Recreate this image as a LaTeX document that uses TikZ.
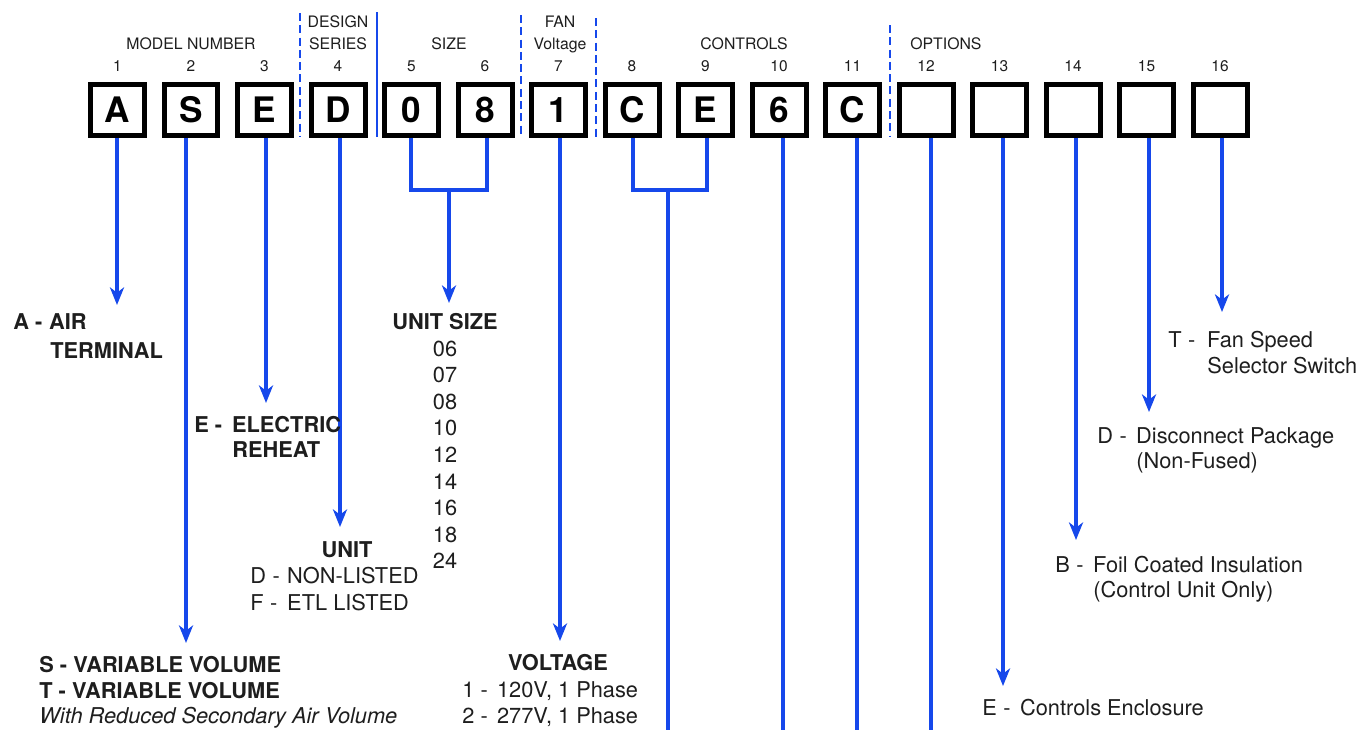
\documentclass[tikz,border=0pt]{standalone}
\usepackage{fontspec}
\setmainfont{TeX Gyre Heros}
\usetikzlibrary{arrows.meta}
\definecolor{cblue}{RGB}{22,72,235}
\definecolor{ink}{RGB}{30,30,30}
\newcommand\lead[2]{\makebox[#1][l]{#2\hspace{0.3em}-}}
\begin{document}
\begin{tikzpicture}[x=0.02cm,y=-0.02cm,
  codebox/.style={draw=black, line width=0.1cm, minimum width=1.08cm, minimum height=1.02cm, inner sep=0pt, font=\fontsize{20}{20}\selectfont\bfseries},
  wire/.style={draw=cblue, line width=1.9pt, line join=miter},
  arr/.style={wire, -{Stealth[length=10pt,width=8pt,inset=3pt]}},
  divd/.style={draw=cblue, line width=1.4pt, dash pattern=on 4.5pt off 2.5pt},
  divs/.style={draw=cblue, line width=1.4pt},
  grp/.style={font=\fontsize{9}{10}\selectfont, text=ink, inner sep=0pt, anchor=base},
  num/.style={font=\fontsize{8.8}{10}\selectfont, text=ink, inner sep=0pt, anchor=base},
  txt/.style={font=\fontsize{12.4}{14}\selectfont, text=ink, inner sep=0pt, anchor=base west},
  btxt/.style={txt, font=\fontsize{12.4}{14}\selectfont\bfseries},
  ctxt/.style={txt, anchor=base},
  cbtxt/.style={btxt, anchor=base}]
\useasboundingbox[fill=white] (0,0) rectangle (1361,730);

% code boxes and position numbers
\foreach \i/\c in {1/A,2/S,3/E,4/D,5/0,6/8,7/1,8/C,9/E,10/6,11/C,12/{},13/{},14/{},15/{},16/{}}{
  \node[codebox] (b\i) at ({117.5+73.5*(\i-1)},110) {\c};
  \node[num] (n\i) at ({117.5+73.5*(\i-1)},71) {\i};
}

% group labels
\node[grp] (gmodel) at (191,49) {MODEL NUMBER};
\node[grp] (gdes1) at (338,28) {DESIGN};
\node[grp] (gdes2) at (338,49) {SERIES};
\node[grp] (gsize) at (449,49) {SIZE};
\node[grp] (gfan1) at (560,28) {FAN};
\node[grp] (gfan2) at (560,49) {Voltage};
\node[grp] (gctl) at (744,49) {CONTROLS};
\node[grp, anchor=base west] (gopt) at (910,49) {OPTIONS};

% dividers
\coordinate (d1a) at (300,13);  \coordinate (d1b) at (300,137);
\coordinate (d2a) at (377,12);  \coordinate (d2b) at (377,137);
\coordinate (d3a) at (521,15);  \coordinate (d3b) at (521,137);
\coordinate (d4a) at (596,18);  \coordinate (d4b) at (596,137);
\coordinate (d5a) at (890,25);  \coordinate (d5b) at (890,137);
\draw[divd] (d1a) -- (d1b);
\draw[divs] (d2a) -- (d2b);
\draw[divd] (d3a) -- (d3b);
\draw[divd] (d4a) -- (d4b);
\draw[divd] (d5a) -- (d5b);

% connector end points
\coordinate (t1) at (117,305);
\coordinate (t2) at (186,643);
\coordinate (t3) at (266,403);
\coordinate (t4) at (340,527);
\coordinate (t7) at (560,641);
\coordinate (t13) at (1003,686);
\coordinate (t14) at (1076,540);
\coordinate (t15) at (1149,412);
\coordinate (t16) at (1222,312);
\coordinate (tsz) at (449,303);
\coordinate (k5) at (411,190);
\coordinate (k6) at (487,190);
\coordinate (j56) at (449,190);
\coordinate (k8) at (633,190);
\coordinate (k9) at (707,190);
\coordinate (j89) at (668,190);
\coordinate (e89) at (668,730);
\coordinate (e10) at (783,730);
\coordinate (e11) at (857,730);
\coordinate (e12) at (931,730);

% connectors
\foreach \i in {1,2,3,4,7,13,14,15,16}{
  \draw[arr] (b\i.south -| t\i) -- (t\i);
}
\draw[wire] (b5.south -| k5) -- (k5) -- (k6) -- (b6.south -| k6);
\draw[arr] (j56) -- (tsz);
\draw[wire] (b8.south -| k8) -- (k8) -- (k9) -- (b9.south -| k9);
\draw[wire] (j89) -- (e89);
\draw[wire] (b10.south -| e10) -- (e10);
\draw[wire] (b11.south -| e11) -- (e11);
\draw[wire] (b12.south -| e12) -- (e12);

% texts
\node[btxt] (ta1) at (13,329) {\makebox[20.4pt][l]{A -}AIR};
\node[btxt] (ta2) at (50,358) {TERMINAL};
\node[btxt] (te1) at (194,432) {\makebox[21.5pt][l]{E -}ELECTRIC};
\node[btxt] (te2) at (232,457) {REHEAT};
\node[cbtxt] (tu) at (347,557) {UNIT};
\node[txt] (tu1) at (250,583) {\lead{21pt}{D}NON-LISTED};
\node[txt] (tu2) at (250,610) {\lead{21pt}{F}ETL LISTED};
\node[cbtxt] (tsize) at (445,329) {UNIT SIZE};
\foreach \k/\v in {0/06,1/07,2/08,3/10,4/12,5/14,6/16,7/18,8/24}{
  \node[ctxt] (sz\k) at (445,{356+26.6*\k}) {\v};
}
\node[btxt] (ts1) at (39,672) {S - VARIABLE VOLUME};
\node[btxt] (ts2) at (39,698) {T - VARIABLE VOLUME};
\node[txt, font=\fontsize{12.4}{14}\selectfont\itshape] (ts3) at (39,723) {With Reduced Secondary Air Volume};
\node[cbtxt] (tv) at (558,670) {VOLTAGE};
\node[txt] (tv1) at (462,697) {\makebox[19.8pt][l]{1 -}120V, 1 Phase};
\node[txt] (tv2) at (462,723) {\makebox[19.8pt][l]{2 -}277V, 1 Phase};
\node[txt] (tt1) at (1168,347) {\lead{22.1pt}{T}Fan Speed};
\node[txt] (tt2) at (1207,373) {Selector Switch};
\node[txt] (tdd1) at (1097,443) {\lead{22.1pt}{D}Disconnect Package};
\node[txt] (tdd2) at (1136,468) {(Non-Fused)};
\node[txt] (tb1) at (1055,572) {\lead{21.5pt}{B}Foil Coated Insulation};
\node[txt] (tb2) at (1093,597) {(Control Unit Only)};
\node[txt] (tee) at (982,715) {\lead{21.5pt}{E}Controls Enclosure};
\end{tikzpicture}
\end{document}
